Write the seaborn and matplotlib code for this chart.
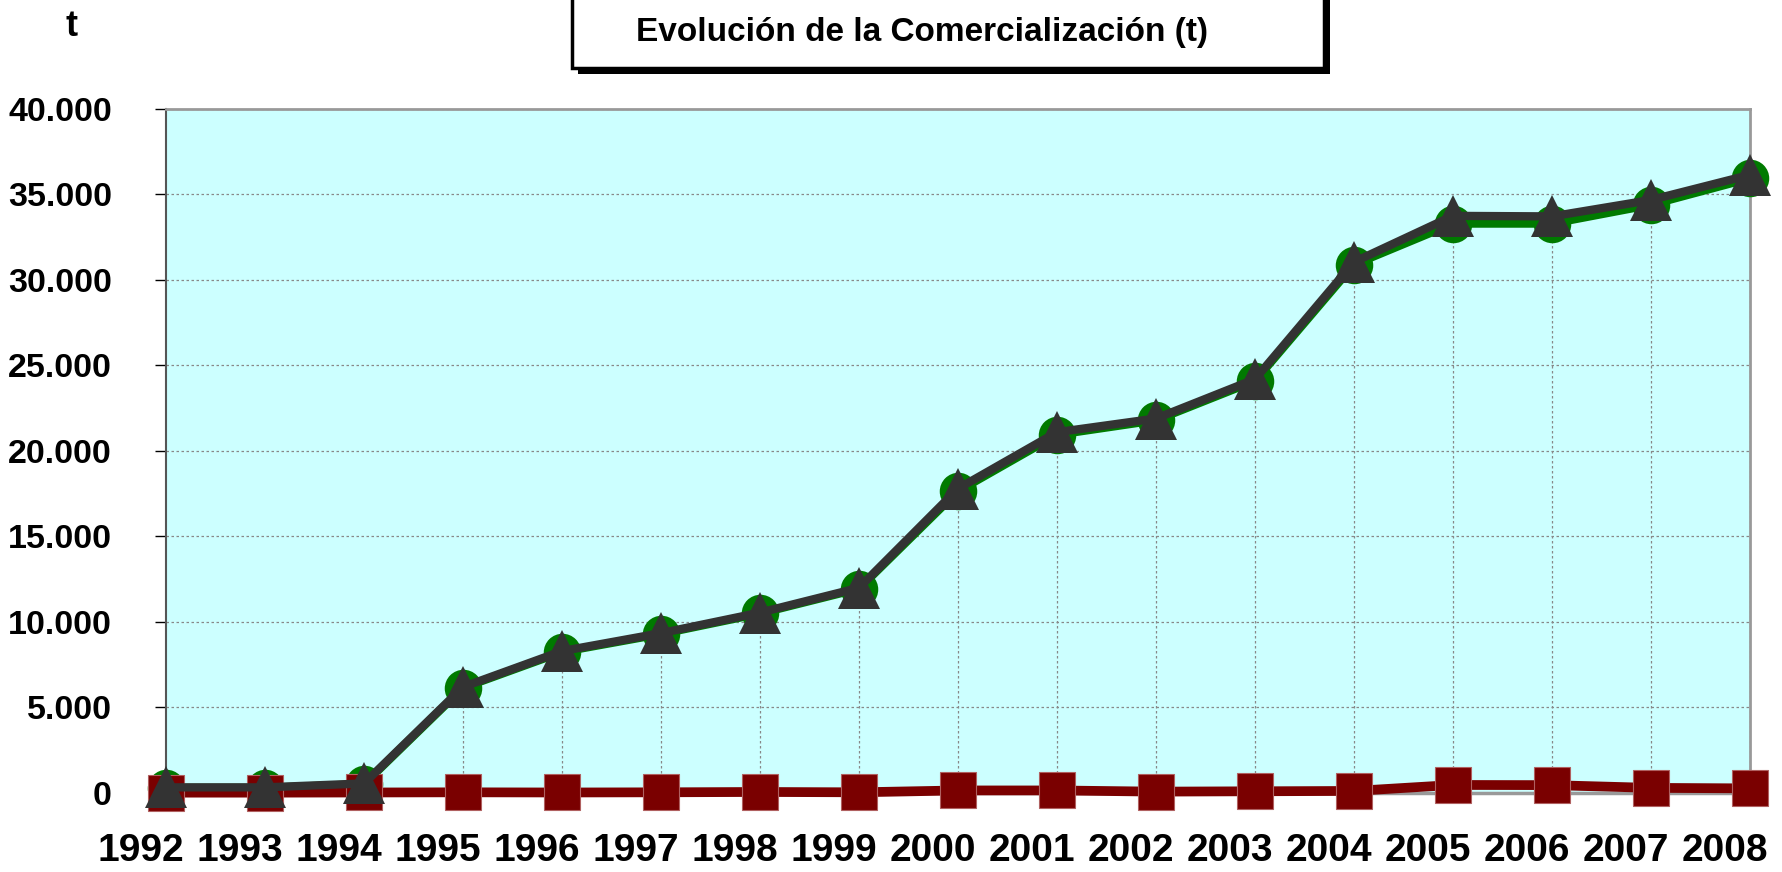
import matplotlib
matplotlib.use("Agg")
import matplotlib.pyplot as plt
import matplotlib.transforms as mtransforms
from matplotlib.patches import Rectangle
from matplotlib.ticker import FuncFormatter
import seaborn as sns

years = list(range(1992, 2009))
year_labels = [str(y) for y in years]
# green circles
serie_verde = [300, 300, 520, 6150, 8250, 9300, 10500, 11950, 17650, 20950,
               21800, 24100, 30900, 33300, 33300, 34400, 35950]
# dark red squares
serie_roja = [20, 20, 30, 40, 30, 40, 60, 40, 150, 150,
              80, 100, 120, 470, 460, 300, 270]
# dark grey triangles (total)
serie_total = [330, 330, 560, 6200, 8300, 9350, 10550, 12000, 17800, 21100,
               21900, 24200, 31050, 33750, 33720, 34680, 36150]
y_ticks = [0, 5000, 10000, 15000, 20000, 25000, 30000, 35000, 40000]

sns.set_style("white")
plt.rcParams["font.family"] = ["Liberation Sans", "DejaVu Sans"]
plt.rcParams["font.weight"] = "bold"
plt.rcParams["text.color"] = "black"
plt.rcParams["xtick.color"] = "black"
plt.rcParams["ytick.color"] = "black"

fig = plt.figure(figsize=(17.82, 8.72), dpi=100)
ax = fig.add_axes([0.0932, 0.0906, 0.9888 - 0.0932 - 0.0068, 0.875 - 0.0906])
ax.set_facecolor("#CCFFFF")

# drop lines
ax.vlines(years, 0, serie_total, colors="#888888", linestyles=(0, (2, 2)),
          linewidth=0.9, zorder=1)

sns.lineplot(x=years, y=serie_verde, ax=ax, color="#007A00", linewidth=6,
             marker="o", markersize=27, markeredgewidth=0, clip_on=False, zorder=3)
sns.lineplot(x=years, y=serie_roja, ax=ax, color="#7A0000", linewidth=7,
             marker="s", markersize=26, markeredgewidth=0.8,
             markeredgecolor="#B06060", clip_on=False, zorder=4)
sns.lineplot(x=years, y=serie_total, ax=ax, color="#333333", linewidth=6,
             marker="^", markersize=30, markeredgewidth=0, clip_on=False, zorder=5)

ax.set_xlim(years[0], years[-1])
ax.set_ylim(0, 40000)
ax.set_yticks(y_ticks)
ax.yaxis.set_major_formatter(FuncFormatter(lambda v, p: f"{int(v):,}".replace(",", ".")))
ax.set_xticks(years)
ax.set_xticklabels(year_labels)
ax.grid(axis="y", color="#888888", linestyle=(0, (2, 2)), linewidth=0.9)
ax.grid(axis="x", visible=False)
ax.set_axisbelow(True)

ax.tick_params(axis="y", length=8, width=1, pad=31, labelsize=24.5, direction="out",
               left=True, colors="black")
ax.tick_params(axis="x", length=5, width=1, pad=24, labelsize=28, direction="out",
               bottom=True, colors="black")
for lab in ax.get_yticklabels() + ax.get_xticklabels():
    lab.set_fontweight("bold")

offset = mtransforms.ScaledTranslation(-0.25, 0, fig.dpi_scale_trans)
for lab in ax.get_xticklabels():
    lab.set_transform(lab.get_transform() + offset)

for side in ["top", "right"]:
    ax.spines[side].set_color("#999999")
    ax.spines[side].set_linewidth(2)
ax.spines["bottom"].set_color("#999999")
ax.spines["bottom"].set_linewidth(2.5)
ax.spines["left"].set_color("#555555")
ax.spines["left"].set_linewidth(1.5)
ax.set_xlabel("")
ax.set_ylabel("")

# title box with shadow
W, H = 1782, 872
x0, x1, ybot = 572, 1324, 68
fig.patches.append(Rectangle(((x0 + 6) / W, 1 - (ybot + 6) / H), (x1 - x0) / W, (ybot + 40) / H,
                             transform=fig.transFigure, facecolor="black", edgecolor="none",
                             zorder=1))
fig.patches.append(Rectangle((x0 / W, 1 - ybot / H), (x1 - x0) / W, (ybot + 40) / H,
                             transform=fig.transFigure, facecolor="white", edgecolor="black",
                             linewidth=2.5, zorder=2))
fig.text(922 / W, 1 - 32 / H, "Evolución de la Comercialización (t)", ha="center", va="center",
         fontsize=24, fontweight="bold", zorder=3)
fig.text(72 / W, 1 - 27 / H, "t", ha="center", va="center", fontsize=26, fontweight="bold")

fig.savefig("out.png", dpi=100)
